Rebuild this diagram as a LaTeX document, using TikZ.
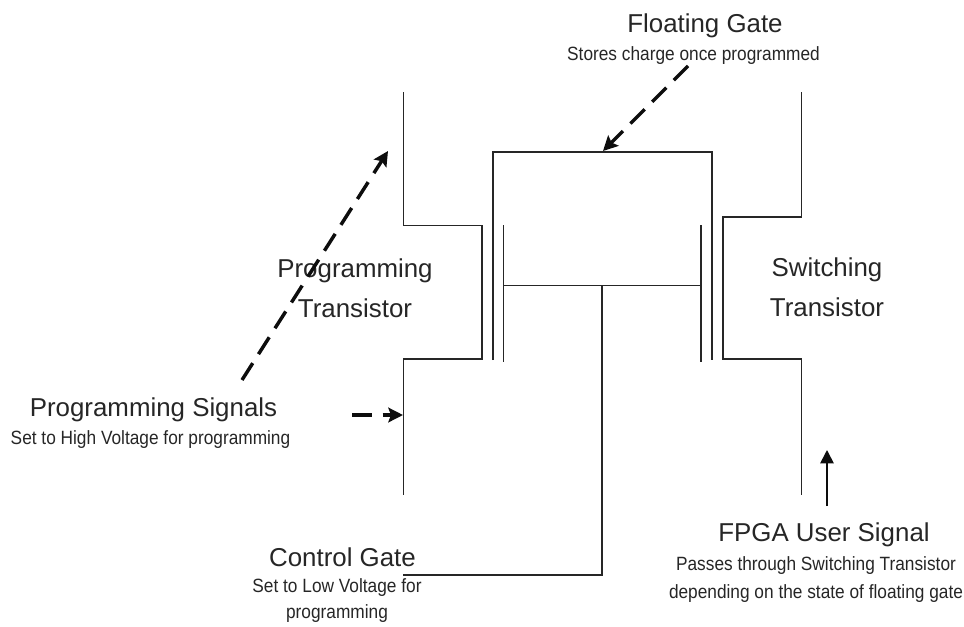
\documentclass[tikz,border=0pt]{standalone}
\usepackage{fontspec}
\setmainfont{Liberation Sans}
\newfontfamily\narrowsans[FakeStretch=0.9]{Liberation Sans}
\usetikzlibrary{arrows.meta}
\tikzset{
 wire/.style={line width=1.4pt,black!85},
 dasharrow/.style={line width=2.6pt,black!95,dash pattern=on 15pt off 8pt,-{Stealth[length=11pt,width=11pt,inset=2pt]}},
 solidarrow/.style={line width=1.3pt,black!95,-{Stealth[length=10pt,width=10pt,inset=0pt]}},
 big/.style={font=\fontsize{19.4}{30}\selectfont,text=black!85,inner sep=0pt,align=center,text depth=0pt},
 small/.style={font=\narrowsans\fontsize{14.4}{19}\selectfont,text=black!85,inner sep=0pt,align=center}
}
\begin{document}
\begin{tikzpicture}[x=0.75pt,y=-0.75pt]
\useasboundingbox (0,0) rectangle (964,626);
\coordinate (pt) at (403.5,92); \coordinate (pa) at (403.5,225.5); \coordinate (pb) at (482,225.5);
\coordinate (pc) at (482,359); \coordinate (pd) at (403.5,359); \coordinate (pe) at (403.5,495);
\coordinate (st) at (801.5,92); \coordinate (sa) at (801.5,217); \coordinate (sb) at (723,217);
\coordinate (sc) at (723,359); \coordinate (sd) at (801.5,359); \coordinate (se) at (801.5,495);
\coordinate (fa) at (493,360); \coordinate (fb) at (493,152); \coordinate (fc) at (712,152); \coordinate (fd) at (712,360);
\coordinate (cl1) at (503.5,225); \coordinate (cl2) at (503.5,362);
\coordinate (cr1) at (701,225); \coordinate (cr2) at (701,362);
\coordinate (ch1) at (503.5,285.5); \coordinate (ch2) at (701,285.5);
\coordinate (cg1) at (602,285.5); \coordinate (cg2) at (602,575); \coordinate (cg3) at (403,575);
\draw[wire] (pt)--(pa)--(pb)--(pc)--(pd)--(pe);
\draw[wire] (st)--(sa)--(sb)--(sc)--(sd)--(se);
\draw[wire] (fa)--(fb)--(fc)--(fd);
\draw[wire] (cl1)--(cl2);
\draw[wire] (cr1)--(cr2);
\draw[wire] (ch1)--(ch2);
\draw[wire] (cg1)--(cg2)--(cg3);
\node[big] (ptl) at (355,288) {Programming\\Transistor};
\node[big] (stl) at (827,287.5) {Switching\\Transistor};
\node[big] (fgl) at (705,23) {Floating Gate};
\node[small] (fgs) at (693.5,56) {Stores charge once programmed};
\node[big] (psl) at (153.5,407) {Programming Signals};
\node[small] (pss) at (150.5,440) {Set to High Voltage for programming};
\node[big] (cgl) at (342.5,557) {Control Gate};
\node[small] (cgs) at (337,600.5) {Set to Low Voltage for\\programming};
\node[big] (ful) at (824,532) {FPGA User Signal};
\node[small] (fus) at (816,580) {Passes through Switching Transistor\\[2pt]depending on the state of floating gate};
\coordinate (a1s) at (688,66); \coordinate (a1e) at (603,151);
\coordinate (a2s) at (242,380); \coordinate (a2e) at (388,151);
\coordinate (a3s) at (352,415); \coordinate (a3e) at (403,415);
\coordinate (a4s) at (827,506); \coordinate (a4e) at (827,450);
\draw[dasharrow] (a1s)--(a1e);
\draw[dasharrow] (a2s)--(a2e);
\draw[dasharrow] (a3s)--(a3e);
\draw[solidarrow] (a4s)--(a4e);
\end{tikzpicture}
\end{document}
